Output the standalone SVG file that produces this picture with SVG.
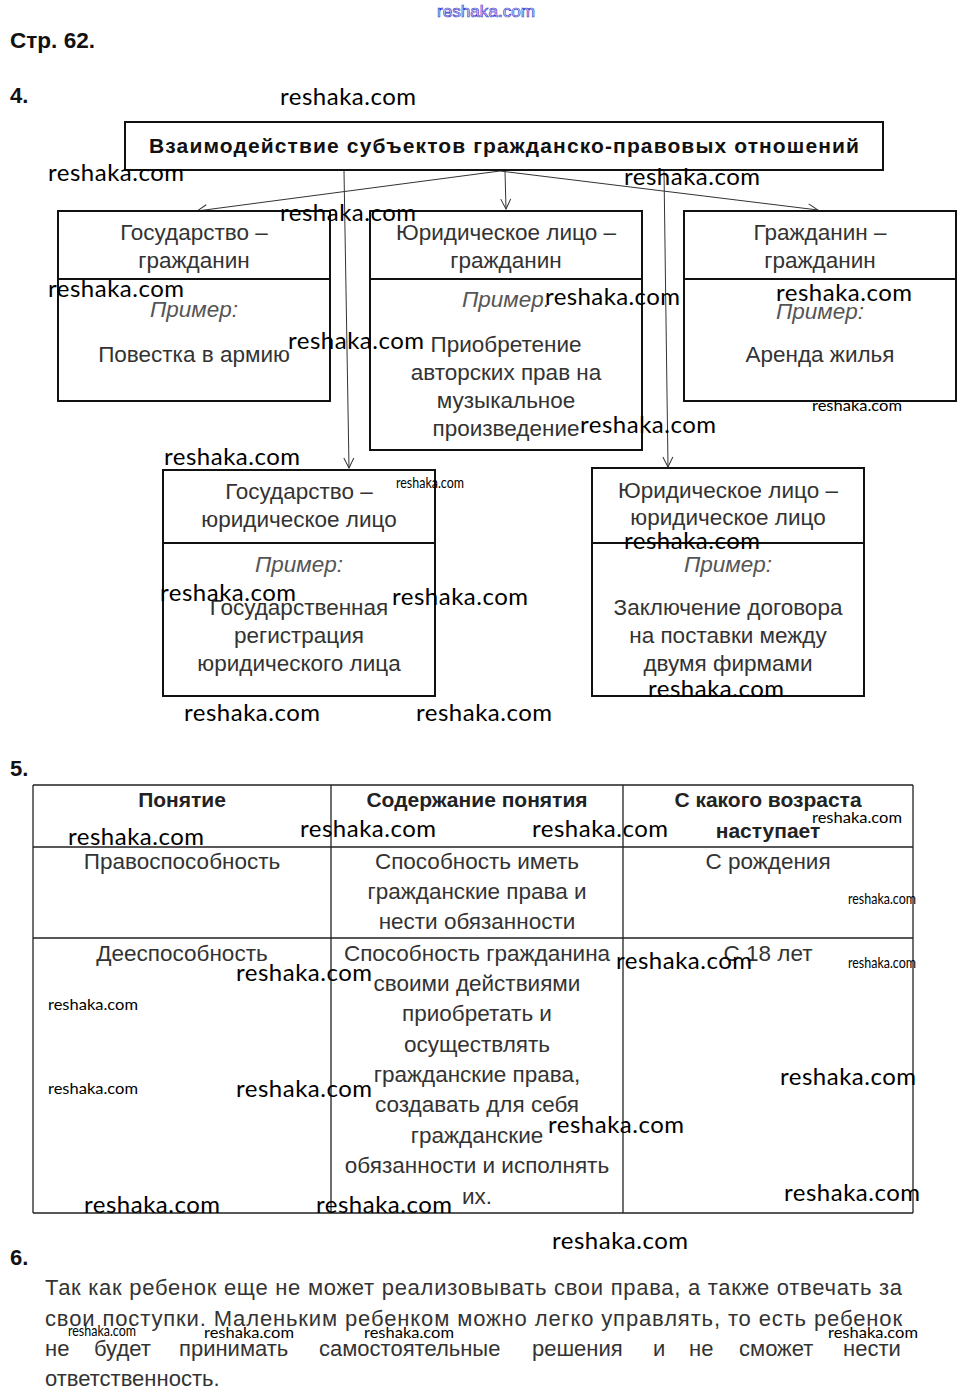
<svg xmlns="http://www.w3.org/2000/svg" width="969" height="1400" viewBox="0 0 969 1400">
<style>
.h{font-family:"Liberation Sans",Arial,sans-serif;font-weight:bold;fill:#111;}
.t{font-family:"Liberation Sans",Arial,sans-serif;font-size:22.5px;fill:#333;text-anchor:middle;}
.i{font-family:"Liberation Sans",Arial,sans-serif;font-size:22.5px;fill:#555;font-style:italic;text-anchor:middle;}
.th{font-family:"Liberation Sans",Arial,sans-serif;font-size:21px;font-weight:bold;fill:#222;text-anchor:middle;}
.p{font-family:"Liberation Sans",Arial,sans-serif;font-size:22px;fill:#333;}
.box{fill:#fff;stroke:#111;stroke-width:2;}
.div{stroke:#111;stroke-width:2;}
.con{stroke:#333;stroke-width:1;fill:none;marker-end:url(#arr);}
.grid{stroke:#222;stroke-width:1.3;fill:none;}
.w{font-family:Lato,"Open Sans",sans-serif;font-size:24px;fill:#000;}
.ws{font-family:Lato,"Open Sans",sans-serif;font-size:16px;fill:#000;}
</style>
<defs>
<marker id="arr" markerWidth="12" markerHeight="12" refX="11" refY="6" orient="auto" markerUnits="userSpaceOnUse">
<path d="M1,1 L11,6 L1,11" fill="none" stroke="#333" stroke-width="1"/>
</marker>
</defs>
<rect width="969" height="1400" fill="#fff"/>

<text x="486" y="17" text-anchor="middle" font-family="'Liberation Sans Narrow','Liberation Sans',sans-serif" font-size="16" fill="none" stroke="#3a3acc" stroke-width="0.7" textLength="98" lengthAdjust="spacingAndGlyphs">reshaka.com</text>
<text class="h" x="10" y="48" font-size="22" textLength="85" lengthAdjust="spacingAndGlyphs">Стр. 62.</text>
<text class="h" x="10" y="103" font-size="22">4.</text>

<g id="connectors">
<line class="con" x1="500" y1="171" x2="197" y2="211"/>
<line class="con" x1="505" y1="171" x2="506" y2="209"/>
<line class="con" x1="500" y1="171" x2="818" y2="210"/>
<line class="con" x1="344" y1="171" x2="349" y2="468"/>
<line class="con" x1="664" y1="171" x2="668" y2="467"/>
</g>

<g id="title">
<rect class="box" x="125" y="122" width="758" height="48"/>
<text class="h" x="504" y="153" font-size="21" text-anchor="middle" textLength="710" lengthAdjust="spacing">Взаимодействие субъектов гражданско-правовых отношений</text>
</g>

<g id="n1">
<rect class="box" x="58" y="211" width="272" height="190"/>
<line class="div" x1="58" y1="279" x2="330" y2="279"/>
<text class="t" x="194" y="240">Государство –</text>
<text class="t" x="194" y="268">гражданин</text>
<text class="i" x="194" y="317">Пример:</text>
<text class="t" x="194" y="362">Повестка в армию</text>
</g>

<g id="n2">
<rect class="box" x="370" y="211" width="272" height="239"/>
<line class="div" x1="370" y1="279" x2="642" y2="279"/>
<text class="t" x="506" y="240">Юридическое лицо –</text>
<text class="t" x="506" y="268">гражданин</text>
<text class="i" x="506" y="307">Пример:</text>
<text class="t" x="506" y="352">Приобретение</text>
<text class="t" x="506" y="380">авторских прав на</text>
<text class="t" x="506" y="408">музыкальное</text>
<text class="t" x="506" y="436">произведение</text>
</g>

<g id="n3">
<rect class="box" x="684" y="211" width="272" height="190"/>
<line class="div" x1="684" y1="279" x2="956" y2="279"/>
<text class="t" x="820" y="240">Гражданин –</text>
<text class="t" x="820" y="268">гражданин</text>
<text class="i" x="820" y="319">Пример:</text>
<text class="t" x="820" y="362">Аренда жилья</text>
</g>

<g id="n4">
<rect class="box" x="163" y="470" width="272" height="226"/>
<line class="div" x1="163" y1="543" x2="435" y2="543"/>
<text class="t" x="299" y="499">Государство –</text>
<text class="t" x="299" y="527">юридическое лицо</text>
<text class="i" x="299" y="572">Пример:</text>
<text class="t" x="299" y="615">Государственная</text>
<text class="t" x="299" y="643">регистрация</text>
<text class="t" x="299" y="671">юридического лица</text>
</g>

<g id="n5">
<rect class="box" x="592" y="468" width="272" height="228"/>
<line class="div" x1="592" y1="543" x2="864" y2="543"/>
<text class="t" x="728" y="498">Юридическое лицо –</text>
<text class="t" x="728" y="525">юридическое лицо</text>
<text class="i" x="728" y="572">Пример:</text>
<text class="t" x="728" y="615">Заключение договора</text>
<text class="t" x="728" y="643">на поставки между</text>
<text class="t" x="728" y="671">двумя фирмами</text>
</g>

<text class="h" x="10" y="776" font-size="22">5.</text>
<g id="table">
<path class="grid" d="M33,785 H913 M33,847 H913 M33,938 H913 M33,1213 H913 M33,785 V1213 M331,785 V1213 M623,785 V1213 M913,785 V1213"/>
<text class="th" x="182" y="807">Понятие</text>
<text class="th" x="477" y="807">Содержание понятия</text>
<text class="th" x="768" y="807">С какого возраста</text>
<text class="th" x="768" y="838">наступает</text>
<text class="t" x="182" y="869">Правоспособность</text>
<text class="t" x="477" y="869">Способность иметь</text>
<text class="t" x="477" y="899">гражданские права и</text>
<text class="t" x="477" y="929">нести обязанности</text>
<text class="t" x="768" y="869">С рождения</text>
<text class="t" x="182" y="961">Дееспособность</text>
<text class="t" x="477" y="961">Способность гражданина</text>
<text class="t" x="477" y="991">своими действиями</text>
<text class="t" x="477" y="1021">приобретать и</text>
<text class="t" x="477" y="1052">осуществлять</text>
<text class="t" x="477" y="1082">гражданские права,</text>
<text class="t" x="477" y="1112">создавать для себя</text>
<text class="t" x="477" y="1143">гражданские</text>
<text class="t" x="477" y="1173">обязанности и исполнять</text>
<text class="t" x="477" y="1204">их.</text>
<text class="t" x="768" y="961">С 18 лет</text>
</g>

<text class="h" x="10" y="1265" font-size="22">6.</text>
<g id="answer6">
<text class="p" x="45" y="1295" textLength="857" lengthAdjust="spacing">Так как ребенок еще не может реализовывать свои права, а также отвечать за</text>
<text class="p" x="45" y="1326" textLength="857" lengthAdjust="spacing">свои поступки. Маленьким ребенком можно легко управлять, то есть ребенок</text>
<text class="p" y="1356"><tspan x="45">не</tspan><tspan x="94">будет</tspan><tspan x="179">принимать</tspan><tspan x="319">самостоятельные</tspan><tspan x="532">решения</tspan><tspan x="653">и</tspan><tspan x="689">не</tspan><tspan x="739">сможет</tspan><tspan x="843">нести</tspan></text>
<text class="p" x="45" y="1386">ответственность.</text>
</g>

<g id="watermarks">
<text class="w" x="280" y="105" textLength="136">reshaka.com</text>
<text class="w" x="48" y="181" textLength="136">reshaka.com</text>
<text class="w" x="280" y="221" textLength="136">reshaka.com</text>
<text class="w" x="624" y="185" textLength="136">reshaka.com</text>
<text class="w" x="48" y="297" textLength="136">reshaka.com</text>
<text class="w" x="288" y="349" textLength="136">reshaka.com</text>
<text class="w" x="545" y="305" textLength="135">reshaka.com</text>
<text class="w" x="776" y="301" textLength="136">reshaka.com</text>
<text class="ws" x="812" y="411" textLength="90" lengthAdjust="spacingAndGlyphs">reshaka.com</text>
<text class="w" x="580" y="433" textLength="136">reshaka.com</text>
<text class="w" x="164" y="465" textLength="136">reshaka.com</text>
<text class="ws" x="396" y="488" font-size="13" textLength="68" lengthAdjust="spacingAndGlyphs">reshaka.com</text>
<text class="w" x="624" y="549" textLength="136">reshaka.com</text>
<text class="w" x="160" y="601" textLength="136">reshaka.com</text>
<text class="w" x="392" y="605" textLength="136">reshaka.com</text>
<text class="w" x="648" y="697" textLength="136">reshaka.com</text>
<text class="w" x="184" y="721" textLength="136">reshaka.com</text>
<text class="w" x="416" y="721" textLength="136">reshaka.com</text>
<text class="w" x="68" y="845" textLength="136">reshaka.com</text>
<text class="w" x="300" y="837" textLength="136">reshaka.com</text>
<text class="w" x="532" y="837" textLength="136">reshaka.com</text>
<text class="ws" x="812" y="823" font-size="17" textLength="90" lengthAdjust="spacingAndGlyphs">reshaka.com</text>
<text class="ws" x="848" y="904" font-size="13" textLength="68" lengthAdjust="spacingAndGlyphs">reshaka.com</text>
<text class="w" x="616" y="969" textLength="136">reshaka.com</text>
<text class="ws" x="848" y="968" font-size="13" textLength="68" lengthAdjust="spacingAndGlyphs">reshaka.com</text>
<text class="w" x="236" y="981" textLength="136">reshaka.com</text>
<text class="ws" x="48" y="1010" textLength="90" lengthAdjust="spacingAndGlyphs">reshaka.com</text>
<text class="ws" x="48" y="1094" textLength="90" lengthAdjust="spacingAndGlyphs">reshaka.com</text>
<text class="w" x="236" y="1097" textLength="136">reshaka.com</text>
<text class="w" x="780" y="1085" textLength="136">reshaka.com</text>
<text class="w" x="548" y="1133" textLength="136">reshaka.com</text>
<text class="w" x="84" y="1213" textLength="136">reshaka.com</text>
<text class="w" x="316" y="1213" textLength="136">reshaka.com</text>
<text class="w" x="784" y="1201" textLength="136">reshaka.com</text>
<text class="w" x="552" y="1249" textLength="136">reshaka.com</text>
<text class="ws" x="68" y="1336" font-size="13" textLength="68" lengthAdjust="spacingAndGlyphs">reshaka.com</text>
<text class="ws" x="204" y="1338" textLength="90" lengthAdjust="spacingAndGlyphs">reshaka.com</text>
<text class="ws" x="364" y="1338" textLength="90" lengthAdjust="spacingAndGlyphs">reshaka.com</text>
<text class="ws" x="828" y="1338" textLength="90" lengthAdjust="spacingAndGlyphs">reshaka.com</text>
</g>
</svg>
